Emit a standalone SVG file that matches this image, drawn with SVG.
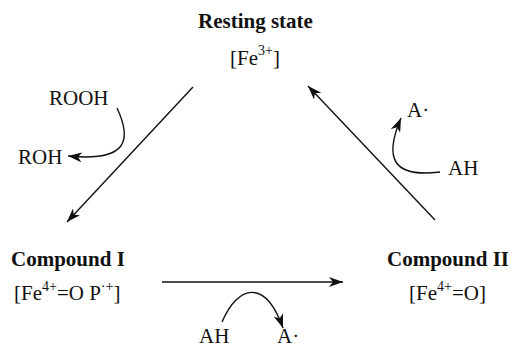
<svg xmlns="http://www.w3.org/2000/svg" width="512" height="347" viewBox="0 0 512 347">
<style>
text{font-family:"Liberation Serif","Times New Roman",serif;font-size:21px;fill:#111}
.b{font-weight:bold}
.sup{font-size:14px}
.ln{fill:none;stroke:#111;stroke-width:1.4;marker-end:url(#ah)}
</style>
<defs>
<marker id="ah" markerUnits="userSpaceOnUse" markerWidth="16" markerHeight="10" refX="14" refY="5" orient="auto" viewBox="0 0 16 10">
<path d="M0,0 L14,5 L0,10 L4,5 Z" fill="#111"/>
</marker>
</defs>
<rect width="512" height="347" fill="#fff"/>
<g id="resting">
<text class="b" x="198" y="28">Resting state</text>
<text x="230" y="65">[Fe<tspan class="sup" dy="-10">3+</tspan><tspan dy="10">]</tspan></text>
</g>
<g id="compound1">
<text class="b" x="11" y="266">Compound I</text>
<text x="14" y="300">[Fe<tspan class="sup" dy="-9">4+</tspan><tspan dy="9">=O P</tspan><tspan class="sup" dy="-9">·+</tspan><tspan dy="9">]</tspan></text>
</g>
<g id="compound2">
<text class="b" x="387" y="266">Compound II</text>
<text x="409" y="300">[Fe<tspan class="sup" dy="-9">4+</tspan><tspan dy="9">=O]</tspan></text>
</g>
<g id="labels">
<text x="49" y="105">ROOH</text>
<text x="18" y="164">ROH</text>
<text x="407" y="117">A·</text>
<text x="448" y="175">AH</text>
<text x="199" y="343">AH</text>
<text x="277" y="343">A·</text>
</g>
<g id="connectors">
<path class="ln" d="M193,87 L67,222"/>
<path class="ln" d="M435,220 L308,86"/>
<path class="ln" d="M162,282 L343,282"/>
<path class="ln" d="M117,108 C132,140 128,162 68,156"/>
<path class="ln" d="M440,172 C392,178 384,158 401,118"/>
<path class="ln" d="M222,322 C238,285 265,278 283,328"/>
</g>
</svg>
